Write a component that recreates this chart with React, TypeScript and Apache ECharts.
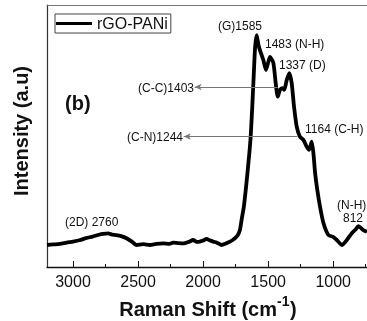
import React, { useEffect, useRef } from "react";
import * as echarts from "echarts";

const ramanShift = [
  3200, 3150, 3100, 3050, 3000, 2950, 2900, 2850, 2800, 2769, 2730, 2700, 2666, 2630, 2589, 2550, 2512, 2460,
  2409, 2360, 2307, 2260, 2230, 2190, 2153, 2110, 2076, 2050, 2025, 2000, 1973, 1950, 1922, 1890, 1857, 1825,
  1794, 1770, 1755, 1735, 1717, 1704, 1686, 1659, 1636, 1622, 1610, 1600, 1588, 1574, 1563, 1537, 1517, 1500,
  1486, 1460, 1442, 1426, 1409, 1391, 1376, 1357, 1337, 1319, 1301, 1280, 1255, 1229, 1203, 1185, 1165, 1152,
  1139, 1122, 1101, 1075, 1037, 1001, 972, 934, 895, 857, 830, 806, 785, 768, 740,
];
const intensity = [
  8.4, 8.6, 8.8, 9.3, 9.7, 10.2, 11.0, 11.6, 12.3, 12.6, 12.8, 12.4, 12.2, 11.8, 11.0, 9.8, 8.4, 8.7,
  8.4, 8.8, 9.0, 8.8, 9.3, 9.1, 9.0, 9.6, 10.3, 9.6, 9.7, 10.1, 10.7, 10.2, 9.7, 9.2, 8.4, 9.0,
  9.7, 10.4, 11.0, 12.0, 14.1, 18.0, 23.3, 35.9, 48.5, 61.2, 74.0, 84.0, 88.5, 84.7, 82.8, 79.0, 75.2, 78.0,
  80.2, 77.9, 70.2, 65.0, 67.6, 68.3, 67.6, 71.4, 74.0, 70.2, 61.2, 53.5, 49.7, 48.5, 45.9, 44.7, 47.8, 43.5,
  35.9, 29.4, 23.0, 16.8, 12.2, 11.5, 10.3, 8.4, 10.3, 12.9, 14.2, 15.6, 14.8, 14.1, 13.4,
];

const majorTicks = [3000, 2500, 2000, 1500, 1000];
const minorTicks = [2750, 2250, 1750, 1250, 750];

const seriesName = "rGO-PANi";

// arrow lines: [from shift, to shift, intensity level]
const arrowLines = [
  [2065, 1426, 68.7],
  [2149, 1273, 49.8],
];

const FONT = "'Liberation Sans', Arial, Helvetica, sans-serif";

export default function App() {
  const ref = useRef<HTMLDivElement>(null);
  useEffect(() => {
    if (!ref.current) return;
    const chart = echarts.init(ref.current, null, { renderer: "svg" });
    const data = ramanShift.map((x, i) => [x, intensity[i]]);
    const annText = (text: string, x: number, y: number, extra: any = {}) => ({
      type: "text",
      x,
      y,
      style: {
        text,
        fontFamily: FONT,
        fontSize: 12,
        fill: "#111",
        verticalAlign: "middle",
        align: "left",
        ...extra,
      },
      z: 100,
    });
    const titleStyle = { fontFamily: FONT, fontSize: 20, fontWeight: "bold", fill: "#111", verticalAlign: "middle" };
    chart.setOption({
      animation: false,
      grid: { left: 47, right: 0, top: 5, bottom: 54 },
      legend: {
        left: 55,
        top: 14,
        padding: [1, 3, 1, 1],
        borderColor: "#444",
        borderWidth: 1,
        icon: "rect",
        itemWidth: 36,
        itemHeight: 3,
        itemStyle: { color: "#000" },
        textStyle: { fontFamily: FONT, fontSize: 16, color: "#111", lineHeight: 17 },
        data: [seriesName],
      },
      xAxis: [
        {
          type: "value",
          min: 740,
          max: 3200,
          inverse: true,
          position: "bottom",
          axisLine: { show: true, onZero: false, lineStyle: { color: "#111", width: 1.3 } },
          axisTick: { show: true, inside: true, length: 6, customValues: majorTicks, lineStyle: { color: "#111" } },
          axisLabel: {
            customValues: majorTicks,
            formatter: (v: number) => String(v),
            fontFamily: FONT,
            fontSize: 16,
            color: "#111",
            margin: 6,
          },
          splitLine: { show: false },
        },
        {
          type: "value",
          min: 740,
          max: 3200,
          inverse: true,
          position: "top",
          axisLine: { show: true, onZero: false, lineStyle: { color: "#777", width: 1 } },
          axisTick: { show: false },
          axisLabel: { show: false },
          splitLine: { show: false },
        },
        {
          type: "value",
          min: 740,
          max: 3200,
          inverse: true,
          position: "bottom",
          axisLine: { show: false },
          axisTick: { show: true, inside: true, length: 3, customValues: minorTicks, lineStyle: { color: "#111" } },
          axisLabel: { show: false },
          splitLine: { show: false },
        },
      ],
      yAxis: {
        type: "value",
        min: 0,
        max: 100,
        axisLine: { show: true, onZero: false, lineStyle: { color: "#333", width: 1.2 } },
        axisTick: { show: false },
        axisLabel: { show: false },
        splitLine: { show: false },
      },
      series: [
        {
          name: seriesName,
          type: "line",
          xAxisIndex: 0,
          data,
          showSymbol: false,
          symbol: "none",
          smooth: 0.2,
          lineStyle: { color: "#000", width: 3.8 },
          itemStyle: { color: "#000" },
          markLine: {
            silent: true,
            symbol: ["arrow", "none"],
            symbolSize: [5, 7],
            label: { show: false },
            lineStyle: { color: "#777", width: 1, type: "solid" },
            data: arrowLines.map(([a, b, y]) => [{ coord: [a, y] }, { coord: [b, y] }]),
          },
          z: 3,
        },
      ],
      graphic: [
        annText("(G)1585", 218, 26),
        annText("1483 (N-H)", 265, 44),
        annText("1337 (D)", 279, 65),
        annText("(C-C)1403", 194, 88, { align: "right" }),
        annText("(C-N)1244", 183, 137, { align: "right" }),
        annText("1164 (C-H)", 305, 129),
        annText("(N-H)", 337, 205),
        annText("812", 343, 218),
        annText("(2D) 2760", 65, 222),
        annText("(b)", 65, 103, { fontSize: 20, fontWeight: "bold" }),
        {
          type: "text",
          x: 21,
          y: 131,
          rotation: Math.PI / 2,
          style: { ...titleStyle, text: "Intensity (a.u)", align: "center" },
        },
        {
          type: "text",
          x: 277,
          y: 309,
          style: { ...titleStyle, text: "Raman Shift (cm", align: "right" },
        },
        {
          type: "text",
          x: 277,
          y: 301,
          style: { ...titleStyle, fontSize: 14, text: "-1", align: "left" },
        },
        {
          type: "text",
          x: 290,
          y: 309,
          style: { ...titleStyle, text: ")", align: "left" },
        },
      ],
    });
    return () => chart.dispose();
  }, []);
  return <div ref={ref} style={{ position: "fixed", left: 0, top: 0, width: 367, height: 321 }} />;
}
